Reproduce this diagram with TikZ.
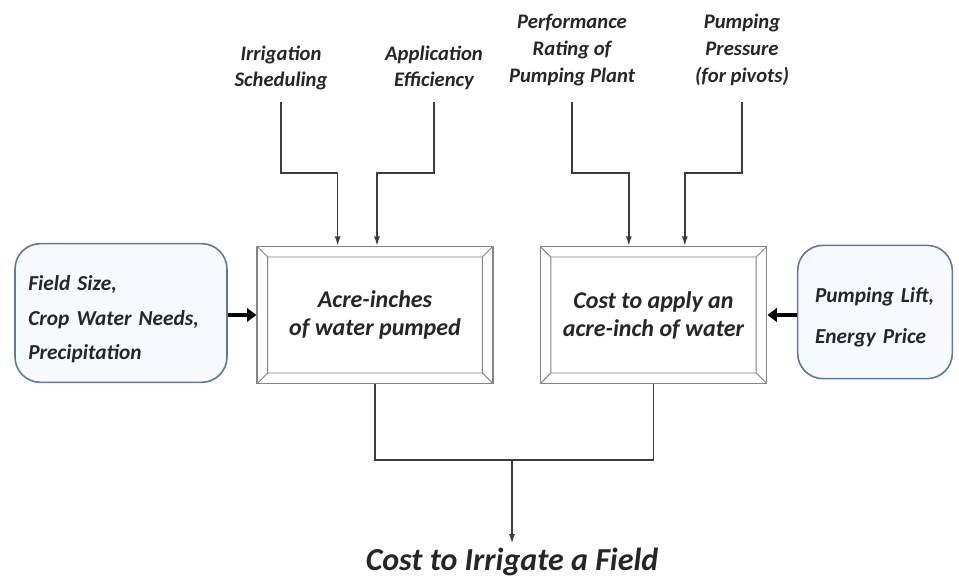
\documentclass[tikz,border=0pt]{standalone}
\usepackage{fontspec}
\setmainfont{Carlito}
\usepackage{xcolor}
\usepackage{tikz}
\usetikzlibrary{arrows.meta,positioning}

\definecolor{linegray}{HTML}{3C3C3C}
\definecolor{framegray}{HTML}{858585}
\definecolor{roundblue}{HTML}{62789A}
\definecolor{roundfill}{HTML}{F6F9FE}
\definecolor{textgray}{HTML}{262626}

\begin{document}
\begin{tikzpicture}[x=0.75pt, y=-0.75pt,
    every node/.style={text=textgray},
    factor/.style={align=center, font=\fontsize{15.5}{20}\selectfont\bfseries\itshape},
    bevelbox/.style={draw=framegray, line width=0.9pt, fill=white, align=center,
        minimum height=103pt, font=\fontsize{18}{21}\selectfont\bfseries\itshape,
        path picture={
            \draw[framegray, line width=0.7pt]
                ([shift={(8pt,-8pt)}]path picture bounding box.north west) rectangle ([shift={(-8pt,8pt)}]path picture bounding box.south east)
                (path picture bounding box.north west) -- ++(8pt,-8pt)
                (path picture bounding box.north east) -- ++(-8pt,-8pt)
                (path picture bounding box.south west) -- ++(8pt,8pt)
                (path picture bounding box.south east) -- ++(-8pt,8pt);
        }},
    inbox/.style={draw=roundblue, line width=1.2pt, fill=roundfill, rounded corners=19pt,
        align=left, inner xsep=10pt},
    flow/.style={draw=linegray, line width=1pt, -{Latex[length=7pt,width=4.5pt]}},
    link/.style={draw=linegray, line width=1pt},
    fat/.style={draw=black, line width=3.3pt, -{Triangle[length=7pt,width=10pt]}}]
    \useasboundingbox (0,0) rectangle (959,580);

    % Nodes
    \node[factor] (irr) at (281,68) {Irrigation\\Scheduling};
    \node[factor] (appeff) at (434,68) {Application\\Efficiency};
    \node[factor] (perf) at (572,50) {Performance\\Rating of\\Pumping Plant};
    \node[factor] (press) at (742,50) {Pumping\\Pressure\\(for pivots)};

    \node[inbox, text width=139pt, minimum height=104pt, font=\fontsize{16}{26}\selectfont\bfseries\itshape] (fieldbox) at (121,313) {\rule{0pt}{21pt}Field Size,\\Crop Water Needs,\\Precipitation};
    \node[bevelbox, minimum width=177pt] (acre) at (375,315) {Acre-inches\\of water pumped};
    \node[bevelbox, minimum width=170pt] (cost) at (653.5,315) {Cost to apply an\\acre-inch of water};
    \node[inbox, text width=90pt, inner xsep=13pt, minimum height=100pt, font=\fontsize{16}{31}\selectfont\bfseries\itshape] (liftbox) at (875,312) {\rule{0pt}{19pt}Pumping Lift,\\Energy Price};

    \node[font=\fontsize{24}{28}\selectfont\bfseries\itshape] (total) at (512,562) {Cost to Irrigate a Field};

    \coordinate (irrbend) at (281,173);
    \coordinate (appbend) at (434,173);
    \coordinate (perfbend) at (572,173);
    \coordinate (pressbend) at (742,173);
    \coordinate (join) at (512,460);

    % Edges
    \draw[flow, shorten <=5pt] (irr.south) -- (irrbend) -| ([xshift=-28pt]acre.north);
    \draw[flow, shorten <=5pt] (appeff.south) -- (appbend) -| ([xshift=1.5pt]acre.north);
    \draw[flow, shorten <=9pt] (perf.south) -- (perfbend) -| ([xshift=-18.5pt]cost.north);
    \draw[flow, shorten <=9pt] (press.south) -- (pressbend) -| ([xshift=23.5pt]cost.north);

    \draw[fat] (fieldbox.east |- acre) -- (acre.west);
    \draw[fat] (liftbox.west |- cost) -- (cost.east);

    \draw[link] (acre.south) |- (join) -| (cost.south);
    \draw[flow] (join) -- (total);
\end{tikzpicture}
\end{document}
